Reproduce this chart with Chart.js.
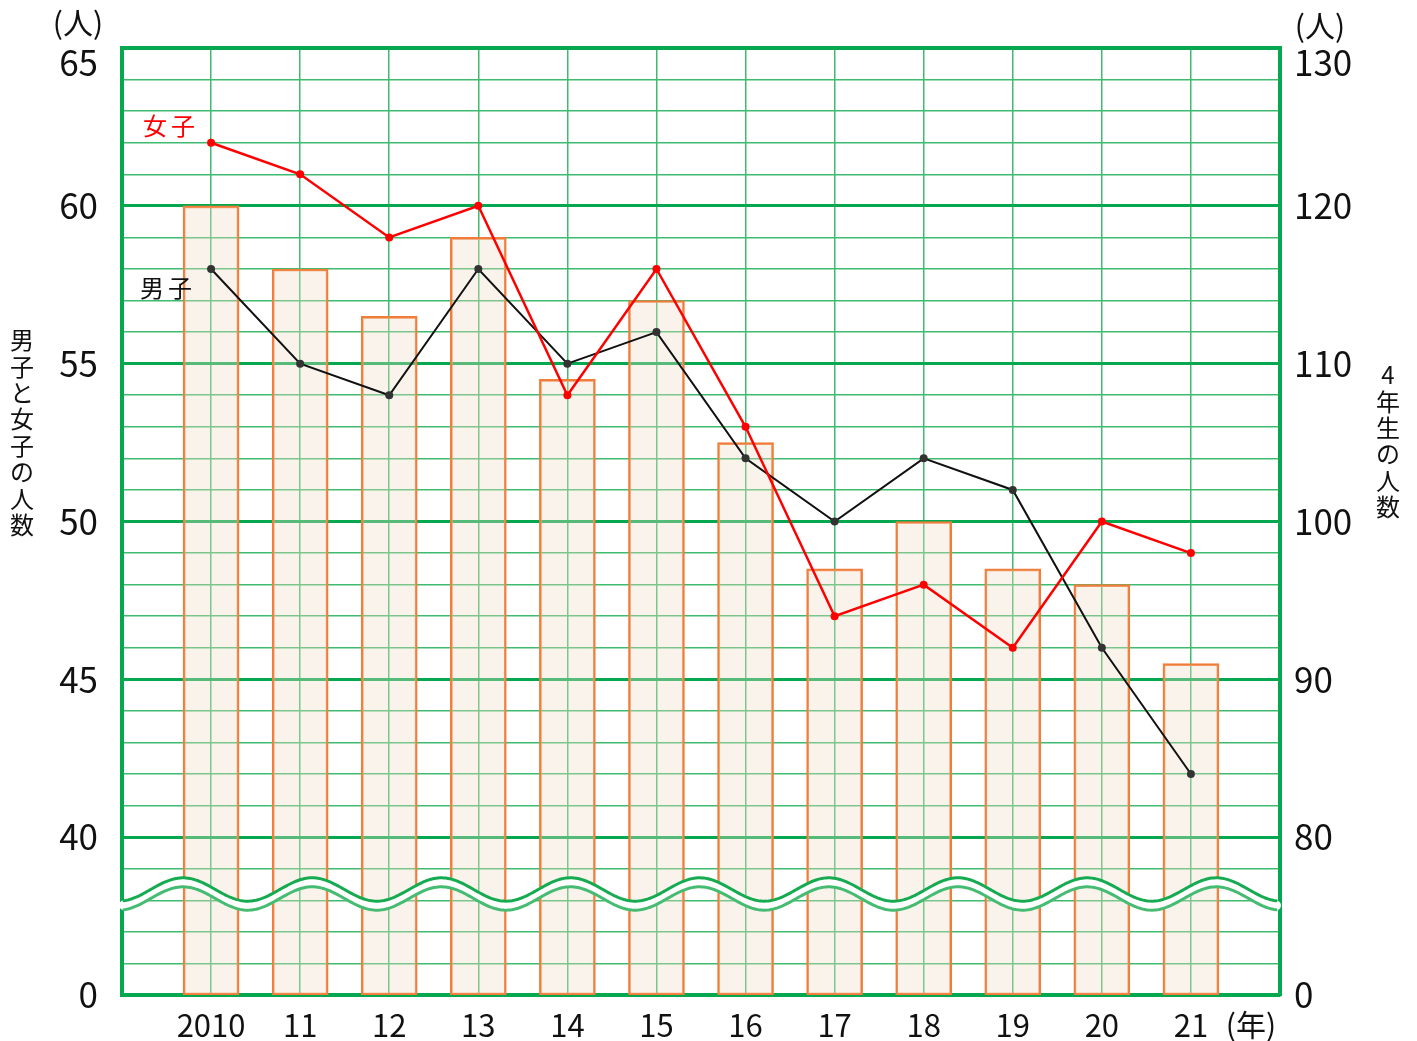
<!DOCTYPE html>
<html lang="ja">
<head>
<meta charset="utf-8">
<title>4年生の人数</title>
<script src="https://cdn.jsdelivr.net/npm/chart.js"></script>
<style>
  html, body { margin: 0; padding: 0; background: #fff; }
  #wrap { width: 1417px; height: 1041px; position: relative; }
</style>
</head>
<body>
<div id="wrap"><canvas id="chart"></canvas></div>
<script>
// データ
const years = ['2010', '11', '12', '13', '14', '15', '16', '17', '18', '19', '20', '21'];
const girls = [62, 61, 59, 60, 54, 58, 53, 47, 48, 46, 50, 49];
const boys = [58, 55, 54, 58, 55, 56, 52, 50, 52, 51, 46, 42];
const total = [120, 116, 113, 118, 109, 114, 105, 97, 100, 97, 96, 91];

// 左軸 (男子・女子) と右軸 (4年生) の目盛り
const leftTicks = [0, 40, 45, 50, 55, 60, 65];
const rightTicks = [0, 80, 90, 100, 110, 120, 130];

// 省略線より上の部分: 左は 35 を引く、右は 70 を引く
const LEFT_CUT = 35;
const RIGHT_CUT = 70;

const FONT = "'Noto Sans CJK JP', 'Noto Sans', sans-serif";
const GREEN_MAJOR = '#06a84f';
const GREEN_MINOR = '#3fbb6f';

const toPoints = (arr, cut) => arr.map((v, i) => ({ x: i + 1, y: v - cut }));

// 軸ラベル (数字以外)
function drawTexts(chart) {
  const ctx = chart.ctx;
  const x = chart.scales.x;
  const y = chart.scales.y;
  ctx.save();
  ctx.textAlign = 'center';
  ctx.textBaseline = 'middle';
  ctx.fillStyle = '#111';
  ctx.font = '30px ' + FONT;
  ctx.fillText('(人)', 78, 23);
  ctx.fillText('(人)', 1320, 26);
  ctx.fillText('(年)', 1251, 1025);

  ctx.font = '24px ' + FONT;
  const leftTitle = '男子と女子の人数';
  for (let i = 0; i < leftTitle.length; i++) {
    ctx.fillText(leftTitle[i], 22, 340 + i * 26.4);
  }
  const rightTitle = '4年生の人数';
  for (let i = 0; i < rightTitle.length; i++) {
    ctx.fillText(rightTitle[i], 1388, 375 + i * 26.4);
  }

  // 系列名
  const lx = x.getPixelForValue(0.55);
  ctx.letterSpacing = '4px';
  ctx.fillStyle = '#ff0000';
  ctx.fillText('女子', lx, y.getPixelForValue(girls[0] - LEFT_CUT) - 17);
  ctx.fillStyle = '#111';
  ctx.fillText('男子', lx - 3, y.getPixelForValue(boys[0] - LEFT_CUT) + 19);
  ctx.restore();
}

// 省略の波線
const wavePlugin = {
  id: 'wave',
  afterDatasetsDraw(chart) {
    const { ctx, chartArea: a } = chart;
    const x = chart.scales.x;
    const y = chart.scales.y;
    const unit = y.getPixelForValue(0) - y.getPixelForValue(1);
    const yc = y.getPixelForValue(3.2);
    const amp = unit * 0.37;
    const period = (x.getPixelForValue(1) - x.getPixelForValue(0)) * 1.45;
    const x0 = x.getPixelForValue(0.685);
    const path = (off) => {
      ctx.beginPath();
      for (let px = a.left + 2; px <= a.right - 3; px += 2) {
        const py = yc + off - amp * Math.cos(2 * Math.PI * (px - x0) / period);
        if (px === a.left + 2) ctx.moveTo(px, py); else ctx.lineTo(px, py);
      }
    };
    ctx.save();
    ctx.lineCap = 'round';
    path(0);
    ctx.strokeStyle = '#ffffff';
    ctx.lineWidth = 10;
    ctx.stroke();
    path(-4.5);
    ctx.strokeStyle = '#16ab50';
    ctx.lineWidth = 3;
    ctx.stroke();
    path(4.5);
    ctx.strokeStyle = '#46bc72';
    ctx.lineWidth = 3;
    ctx.stroke();
    ctx.restore();
  },
  afterDraw(chart) {
    drawTexts(chart);
  }
};

// 縦軸の幅を固定し、ラベルによる上下の余白を消す
function fixWidth(w) {
  return s => {
    s.width = w;
    s.paddingTop = 0;
    s.paddingBottom = 0;
  };
}

new Chart(document.getElementById('chart'), {
  type: 'bar',
  data: {
    datasets: [
      {
        type: 'line',
        label: '女子',
        data: toPoints(girls, LEFT_CUT),
        yAxisID: 'y',
        borderColor: '#ff0000',
        backgroundColor: '#ff0000',
        borderWidth: 2.5,
        pointRadius: 4,
        pointBorderWidth: 0,
        tension: 0,
        order: 1
      },
      {
        type: 'line',
        label: '男子',
        data: toPoints(boys, LEFT_CUT),
        yAxisID: 'y',
        borderColor: '#111111',
        backgroundColor: '#333333',
        borderWidth: 2,
        pointRadius: 4,
        pointBorderWidth: 0,
        tension: 0,
        order: 2
      },
      {
        type: 'bar',
        label: '4年生',
        data: toPoints(total, RIGHT_CUT),
        yAxisID: 'y2',
        backgroundColor: 'rgba(238, 222, 200, 0.35)',
        borderColor: '#f07d3a',
        borderWidth: 2,
        borderSkipped: false,
        barThickness: 56,
        order: 3
      }
    ]
  },
  options: {
    responsive: true,
    maintainAspectRatio: false,
    animation: false,
    layout: { padding: { top: 48, left: 0, right: 0, bottom: 0 } },
    plugins: {
      legend: { display: false },
      tooltip: { enabled: false }
    },
    scales: {
      x: {
        type: 'linear',
        min: 0,
        max: 13,
        offset: false,
        afterFit: s => { s.height = 46; s.paddingLeft = 0; s.paddingRight = 0; },
        ticks: {
          stepSize: 1,
          autoSkip: false,
          maxRotation: 0,
          padding: 12,
          color: '#111',
          font: { family: FONT, size: 31 },
          callback: v => (v >= 1 && v <= years.length) ? years[v - 1] : ''
        },
        grid: { offset: false, color: GREEN_MINOR, lineWidth: 1.5, drawTicks: false },
        border: { display: true, color: GREEN_MAJOR, width: 4 }
      },
      y: {
        position: 'left',
        min: 0,
        max: 30,
        afterFit: fixWidth(122),
        ticks: {
          stepSize: 1,
          autoSkip: false,
          padding: 24,
          color: '#111',
          font: { family: FONT, size: 35, lineHeight: 0.86 },
          callback: v => {
            if (v === 0) return String(leftTicks[0]);
            const real = v + LEFT_CUT;
            if (!leftTicks.includes(real)) return '';
            return v === 30 ? ['', String(real)] : String(real);
          }
        },
        grid: {
          drawTicks: false,
          color: ctx => (ctx.tick && ctx.tick.value % 5 === 0) ? GREEN_MAJOR : GREEN_MINOR,
          lineWidth: ctx => {
            if (!ctx.tick) return 1.5;
            if (ctx.tick.value === 30) return 4;
            return ctx.tick.value % 5 === 0 ? 3 : 1.5;
          }
        },
        border: { display: true, color: GREEN_MAJOR, width: 4 }
      },
      y2: {
        position: 'right',
        min: 0,
        max: 60,
        afterFit: fixWidth(137),
        ticks: {
          stepSize: 2,
          autoSkip: false,
          padding: 14,
          color: '#111',
          font: { family: FONT, size: 35, lineHeight: 0.86 },
          callback: v => {
            if (v === 0) return String(rightTicks[0]);
            const real = v + RIGHT_CUT;
            if (!rightTicks.includes(real)) return '';
            return v === 60 ? ['', String(real)] : String(real);
          }
        },
        grid: { display: false, drawTicks: false },
        border: { display: true, color: GREEN_MAJOR, width: 4 }
      }
    }
  },
  plugins: [wavePlugin]
});
</script>
</body>
</html>
